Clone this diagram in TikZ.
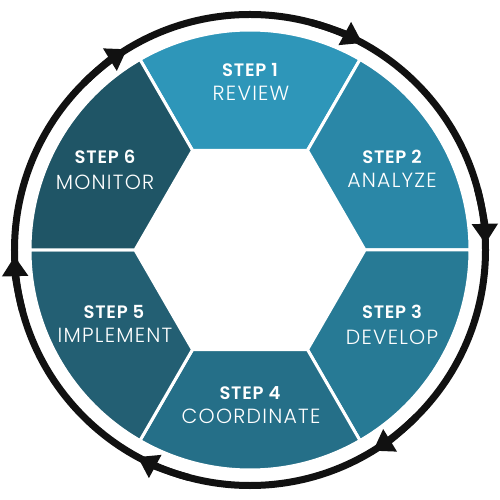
\documentclass[tikz,border=0pt]{standalone}
\usepackage{fontspec}
\setmainfont{Poppins}
\newfontfamily\thinfont[LetterSpace=6]{Poppins Light}
\newfontfamily\boldfont[LetterSpace=4]{Poppins SemiBold}
\usetikzlibrary{arrows.meta}
\definecolor{stepone}{HTML}{2E96B9}
\definecolor{steptwo}{HTML}{2A87A7}
\definecolor{stepthree}{HTML}{277A95}
\definecolor{stepfour}{HTML}{256F88}
\definecolor{stepfive}{HTML}{235F73}
\definecolor{stepsix}{HTML}{1F5566}
\definecolor{ringcol}{HTML}{111111}
\tikzstyle{segment} = [draw=white, line width=3pt]
\tikzstyle{stepno} = [text=white, inner sep=0pt,
    font=\boldfont\fontsize{18}{20}\selectfont]
\tikzstyle{stepname} = [text=white, inner sep=0pt,
    font=\thinfont\fontsize{20.5}{22}\selectfont]
\tikzstyle{ring} = [draw=ringcol, line width=7pt]
\tikzstyle{ringarrow} = [ring, -{Triangle[length=20pt, width=25pt]}]

\begin{document}
\begin{tikzpicture}[x=1pt, y=1pt]

        \useasboundingbox (-250,-250) rectangle (250,250);
        \fill[white] (-250,-250) rectangle (250,250);

        \path[segment, fill=stepone] (60:115pt) -- (60:220pt)
            arc (60:120:220pt) -- (120:115pt) -- cycle;
        \path[segment, fill=steptwo] (0:115pt) -- (0:220pt)
            arc (0:60:220pt) -- (60:115pt) -- cycle;
        \path[segment, fill=stepthree] (-60:115pt) -- (-60:220pt)
            arc (-60:0:220pt) -- (0:115pt) -- cycle;
        \path[segment, fill=stepfour] (-120:115pt) -- (-120:220pt)
            arc (-120:-60:220pt) -- (-60:115pt) -- cycle;
        \path[segment, fill=stepfive] (180:115pt) -- (180:220pt)
            arc (180:240:220pt) -- (240:115pt) -- cycle;
        \path[segment, fill=stepsix] (120:115pt) -- (120:220pt)
            arc (120:180:220pt) -- (180:115pt) -- cycle;

        \draw[ring] (0,0) circle (235.5pt);
        \draw[ringarrow] (75:235.5pt) arc (75:61.5:235.5pt);
        \draw[ringarrow] (15:235.5pt) arc (15:1.5:235.5pt);
        \draw[ringarrow] (-45:235.5pt) arc (-45:-58.5:235.5pt);
        \draw[ringarrow] (-105:235.5pt) arc (-105:-118.5:235.5pt);
        \draw[ringarrow] (-165:235.5pt) arc (-165:-178.5:235.5pt);
        \draw[ringarrow] (135:235.5pt) arc (135:121.5:235.5pt);

        \node[stepno] (step1) at (0,180) {STEP 1};
        \node[stepname] (review) at (1,157) {REVIEW};

        \node[stepno] (step2) at (142,93) {STEP 2};
        \node[stepname] (analyze) at (142,70) {ANALYZE};

        \node[stepno] (step3) at (142,-62) {STEP 3};
        \node[stepname] (develop) at (142,-87) {DEVELOP};

        \node[stepno] (step4) at (0,-143) {STEP 4};
        \node[stepname] (coordinate) at (1,-166) {COORDINATE};

        \node[stepno] (step5) at (-136,-62) {STEP 5};
        \node[stepname] (implement) at (-135,-85) {IMPLEMENT};

        \node[stepno] (step6) at (-145,93) {STEP 6};
        \node[stepname] (monitor) at (-145,68) {MONITOR};
    \end{tikzpicture}
\end{document}
